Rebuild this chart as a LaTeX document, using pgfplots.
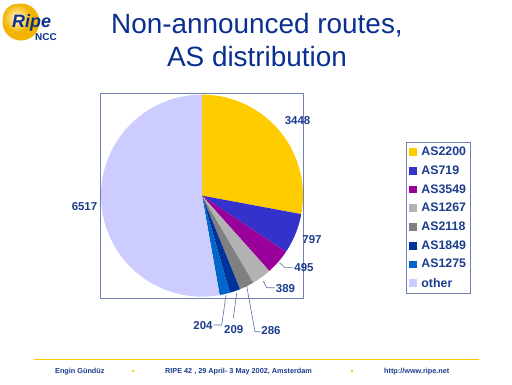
\documentclass[border=0pt]{standalone}
\usepackage{pgfplots}
\pgfplotsset{compat=1.18}
\usepackage{fontspec}
\setmainfont{Liberation Sans}
\definecolor{cA}{HTML}{FFCC00}
\definecolor{cB}{HTML}{3333CC}
\definecolor{cC}{HTML}{990099}
\definecolor{cD}{HTML}{B2B2B2}
\definecolor{cE}{HTML}{808080}
\definecolor{cF}{HTML}{003399}
\definecolor{cG}{HTML}{0066CC}
\definecolor{cH}{HTML}{CCCCFF}
\definecolor{titleblue}{HTML}{0A2F91}
\definecolor{labelblue}{HTML}{1C3C8C}
\definecolor{framec}{HTML}{7080B0}
\definecolor{leader}{HTML}{5A6FA8}
\definecolor{ballout}{HTML}{F2B400}
\newcommand{\fsz}[1]{\fontsize{#1}{#1}\selectfont}
\begin{document}
\begin{tikzpicture}[x=1bp,y=1bp]
\useasboundingbox (0,0) rectangle (512,384);
\fill[white] (0,0) rectangle (512,384);
% data (values of the slices, clockwise from the top)
\pgfmathsetmacro\vA{3448}
\pgfmathsetmacro\vB{797}
\pgfmathsetmacro\vC{495}
\pgfmathsetmacro\vD{389}
\pgfmathsetmacro\vE{286}
\pgfmathsetmacro\vF{209}
\pgfmathsetmacro\vG{204}
\pgfmathsetmacro\vH{6517}
\pgfmathsetmacro\tot{\vA+\vB+\vC+\vD+\vE+\vF+\vG+\vH}
\pgfmathsetmacro\aA{90}
\pgfmathsetmacro\aB{\aA-(\vA/\tot)*360}
\pgfmathsetmacro\aC{\aB-(\vB/\tot)*360}
\pgfmathsetmacro\aD{\aC-(\vC/\tot)*360}
\pgfmathsetmacro\aE{\aD-(\vD/\tot)*360}
\pgfmathsetmacro\aF{\aE-(\vE/\tot)*360}
\pgfmathsetmacro\aG{\aF-(\vF/\tot)*360}
\pgfmathsetmacro\aH{\aG-(\vG/\tot)*360}
\pgfmathsetmacro\aI{\aH-(\vH/\tot)*360}
% logo
\fill[ballout] (21,362) circle (18.5);
\shade[inner color=yellow!15!white, outer color=ballout] (17,366) circle (14);
\node[anchor=base west, text=titleblue, inner sep=0] at (12,357) {\fsz{18}\bfseries\itshape Ripe};
\node[anchor=base west, text=titleblue, inner sep=0] at (35,344) {\fsz{10}\bfseries NCC};
% title
\node[anchor=base, text=titleblue, inner sep=0] at (257,350.7) {\fsz{28}Non-announced routes,};
\node[anchor=base, text=titleblue, inner sep=0] at (257,317.3) {\fsz{28}AS distribution};
\begin{axis}[at={(200,186.5)}, anchor=center, x=101bp, y=101bp,
  xmin=-1.005, xmax=1.005, ymin=-1.015, ymax=1.015,
  axis line style={draw=framec}, ticks=none, clip=false,
  legend style={at={(1.506,0.762)}, anchor=north west, draw=framec,
    font=\fsz{12.4}\bfseries, text=labelblue, inner xsep=2bp, inner ysep=3bp,
    row sep=4.6bp, cells={anchor=west}},
  legend image code/.code={\fill[#1] (0bp,-3.9bp) rectangle (7.8bp,3.9bp); \path (-0.5bp,0) (10.5bp,0);}]
\addplot[fill=cA, draw=none, domain=\aB:\aA, samples=80] ({cos(x)},{sin(x)}) -- (axis cs:0,0) -- cycle;
\addlegendentry{AS2200}
\addplot[fill=cB, draw=none, domain=\aC:\aB, samples=30] ({cos(x)},{sin(x)}) -- (axis cs:0,0) -- cycle;
\addlegendentry{AS719}
\addplot[fill=cC, draw=none, domain=\aD:\aC, samples=20] ({cos(x)},{sin(x)}) -- (axis cs:0,0) -- cycle;
\addlegendentry{AS3549}
\addplot[fill=cD, draw=none, domain=\aE:\aD, samples=20] ({cos(x)},{sin(x)}) -- (axis cs:0,0) -- cycle;
\addlegendentry{AS1267}
\addplot[fill=cE, draw=none, domain=\aF:\aE, samples=15] ({cos(x)},{sin(x)}) -- (axis cs:0,0) -- cycle;
\addlegendentry{AS2118}
\addplot[fill=cF, draw=none, domain=\aG:\aF, samples=15] ({cos(x)},{sin(x)}) -- (axis cs:0,0) -- cycle;
\addlegendentry{AS1849}
\addplot[fill=cG, draw=none, domain=\aH:\aG, samples=15] ({cos(x)},{sin(x)}) -- (axis cs:0,0) -- cycle;
\addlegendentry{AS1275}
\addplot[fill=cH, draw=none, domain=\aI:\aH, samples=150] ({cos(x)},{sin(x)}) -- (axis cs:0,0) -- cycle;
\addlegendentry{other}
\end{axis}
% value labels and leader lines
\begin{scope}[every node/.style={text=labelblue, font=\fsz{11.5}\bfseries, inner sep=0}]
\node at (297.5,263) {3448};
\node at (312,144) {797};
\node at (304,116) {495};
\node at (285.5,95) {389};
\node at (271,53.5) {286};
\node at (233.7,54.5) {209};
\node at (203,58) {204};
\node at (84.5,177.5) {6517};
\end{scope}
\begin{scope}[draw=leader, line width=0.6bp]
\draw (279.3,121.3) -- (285,116.7) -- (293,116.7);
\draw (263.3,103) -- (266.7,96.3) -- (274.5,96.3);
\draw (246.5,99) -- (255,52.3) -- (260.5,52.3);
\draw (236.7,91) -- (233.3,65.7);
\draw (226,89) -- (221.7,59) -- (213.5,59);
\end{scope}
% footer
\draw[cA, line width=1bp] (34,25) -- (479,25);
\begin{scope}[every node/.style={text=labelblue, font=\fsz{7.3}\bfseries, inner sep=0}]
\node[anchor=base west] at (55,10.5) {Engin Gündüz};
\node[anchor=base west] at (165,10.5) {RIPE 42 , 29 April- 3 May 2002, Amsterdam};
\node[anchor=base west] at (384,10.5) {http://www.ripe.net};
\end{scope}
\fill[cA] (132,12.3) rectangle (134,14.3);
\fill[cA] (351,12.3) rectangle (353,14.3);
\end{tikzpicture}
\end{document}
